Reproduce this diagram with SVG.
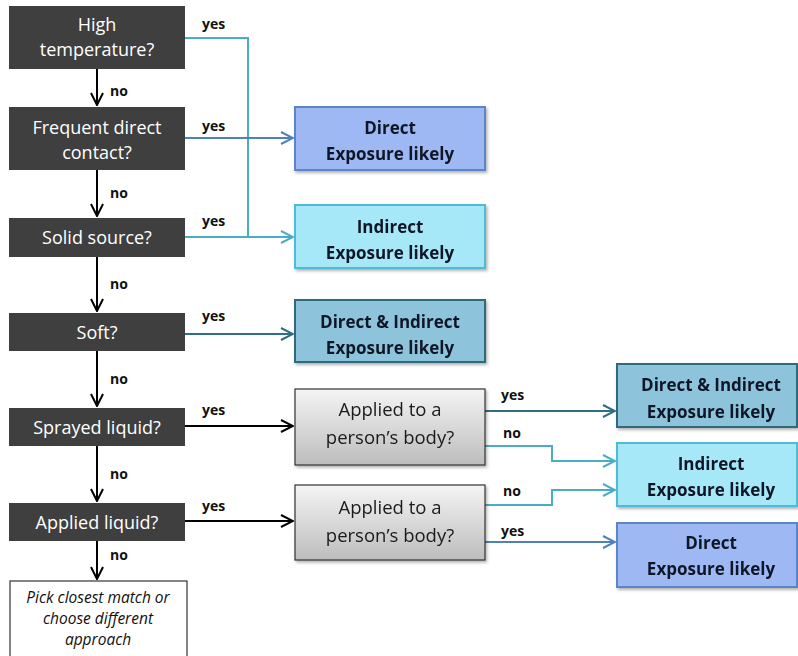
<svg xmlns="http://www.w3.org/2000/svg" width="798" height="656" viewBox="0 0 798 656">
<defs>
<style>
.q{fill:#3f3f3f}
.qt{fill:#fff;font-family:"Open Sans",sans-serif;font-size:18px;text-anchor:middle}
.gt{fill:#1a1a1a;font-family:"Open Sans",sans-serif;font-size:18.5px;text-anchor:middle}
.rt{fill:#111827;font-family:"Open Sans",sans-serif;font-size:17px;font-weight:bold;text-anchor:middle}
.lb{fill:#111;font-family:"Open Sans",sans-serif;font-size:14px;font-weight:bold}
.it{fill:#111;font-family:"Open Sans",sans-serif;font-size:15.5px;font-style:italic;text-anchor:middle}
.c{fill:none;stroke-width:2}
.k{stroke:#000}
.aq{stroke:#4bacc6}
.bl{stroke:#4f81bd}
.dt{stroke:#2f6f80}
.dir{fill:#9db8f3;stroke:#5a85c6;stroke-width:2}
.ind{fill:#a6e8f8;stroke:#4fbcd5;stroke-width:2}
.both{fill:#8ec4db;stroke:#2f6a7c;stroke-width:2}
.gray{fill:url(#gg);stroke:#333;stroke-width:1.2}
.pick{fill:#fff;stroke:#333;stroke-width:1.2}
</style>
<linearGradient id="gg" x1="0" y1="0" x2="0" y2="1">
<stop offset="0" stop-color="#f4f4f4"/>
<stop offset="1" stop-color="#bdbdbd"/>
</linearGradient>
<filter id="sh" x="-5%" y="-5%" width="112%" height="120%">
<feDropShadow dx="1.5" dy="2" stdDeviation="1.5" flood-color="#000" flood-opacity="0.3"/>
</filter>
<marker id="mk" viewBox="0 0 14 14" refX="13" refY="7" markerWidth="14" markerHeight="14" markerUnits="userSpaceOnUse" orient="auto">
<path d="M1,1 L13,7 L1,13" fill="none" stroke="#000" stroke-width="2"/>
</marker>
<marker id="ma" viewBox="0 0 14 14" refX="13" refY="7" markerWidth="14" markerHeight="14" markerUnits="userSpaceOnUse" orient="auto">
<path d="M1,1 L13,7 L1,13" fill="none" stroke="#4bacc6" stroke-width="2"/>
</marker>
<marker id="mb" viewBox="0 0 14 14" refX="13" refY="7" markerWidth="14" markerHeight="14" markerUnits="userSpaceOnUse" orient="auto">
<path d="M1,1 L13,7 L1,13" fill="none" stroke="#4f81bd" stroke-width="2"/>
</marker>
<marker id="md" viewBox="0 0 14 14" refX="13" refY="7" markerWidth="14" markerHeight="14" markerUnits="userSpaceOnUse" orient="auto">
<path d="M1,1 L13,7 L1,13" fill="none" stroke="#2f6f80" stroke-width="2"/>
</marker>
</defs>
<rect width="798" height="656" fill="#fff"/>

<g id="connectors">
<path class="c k" d="M97,69 V105" marker-end="url(#mk)"/>
<path class="c k" d="M97,170 V216" marker-end="url(#mk)"/>
<path class="c k" d="M97,257 V311" marker-end="url(#mk)"/>
<path class="c k" d="M97,351 V406" marker-end="url(#mk)"/>
<path class="c k" d="M97,446 V501" marker-end="url(#mk)"/>
<path class="c k" d="M97,541 V579" marker-end="url(#mk)"/>
<path class="c aq" d="M185,38 H248 V237"/>
<path class="c aq" d="M185,237 H293" marker-end="url(#ma)"/>
<path class="c bl" d="M185,138 H293" marker-end="url(#mb)"/>
<path class="c dt" d="M185,334 H293" marker-end="url(#md)"/>
<path class="c k" d="M185,426 H293" marker-end="url(#mk)"/>
<path class="c k" d="M185,521 H293" marker-end="url(#mk)"/>
<path class="c dt" d="M485,411 H615" marker-end="url(#md)"/>
<path class="c aq" d="M485,446 H552 V461 H615" marker-end="url(#ma)"/>
<path class="c aq" d="M485,505 H552 V490 H615" marker-end="url(#ma)"/>
<path class="c bl" d="M485,542 H615" marker-end="url(#mb)"/>
<text class="lb" x="202" y="29">yes</text>
<text class="lb" x="110" y="96">no</text>
<text class="lb" x="202" y="131">yes</text>
<text class="lb" x="110" y="198">no</text>
<text class="lb" x="202" y="226">yes</text>
<text class="lb" x="110" y="289">no</text>
<text class="lb" x="202" y="321">yes</text>
<text class="lb" x="110" y="384">no</text>
<text class="lb" x="202" y="415">yes</text>
<text class="lb" x="110" y="479">no</text>
<text class="lb" x="202" y="511">yes</text>
<text class="lb" x="110" y="560">no</text>
<text class="lb" x="501" y="400">yes</text>
<text class="lb" x="503" y="438">no</text>
<text class="lb" x="503" y="496">no</text>
<text class="lb" x="501" y="536">yes</text>
</g>

<g id="high-temperature">
<rect class="q" x="9" y="6" width="176" height="63"/>
<text class="qt" x="97" y="31">High</text>
<text class="qt" x="97" y="56">temperature?</text>
</g>
<g id="frequent-contact">
<rect class="q" x="9" y="107" width="176" height="63"/>
<text class="qt" x="97" y="134">Frequent direct</text>
<text class="qt" x="97" y="159">contact?</text>
</g>
<g id="solid-source">
<rect class="q" x="9" y="218" width="176" height="39"/>
<text class="qt" x="97" y="244">Solid source?</text>
</g>
<g id="soft">
<rect class="q" x="9" y="313" width="176" height="38"/>
<text class="qt" x="97" y="339">Soft?</text>
</g>
<g id="sprayed-liquid">
<rect class="q" x="9" y="408" width="176" height="38"/>
<text class="qt" x="97" y="434">Sprayed liquid?</text>
</g>
<g id="applied-liquid">
<rect class="q" x="9" y="503" width="176" height="38"/>
<text class="qt" x="97" y="529">Applied liquid?</text>
</g>
<g id="pick-closest">
<rect class="pick" x="10" y="581" width="177" height="80"/>
<text class="it" x="98" y="603">Pick closest match or</text>
<text class="it" x="98" y="624">choose different</text>
<text class="it" x="98" y="645">approach</text>
</g>

<g id="direct-1" filter="url(#sh)">
<rect class="dir" x="295" y="107" width="190" height="63"/>
<text class="rt" x="390" y="134">Direct</text>
<text class="rt" x="390" y="160">Exposure likely</text>
</g>
<g id="indirect-1" filter="url(#sh)">
<rect class="ind" x="295" y="205" width="190" height="63"/>
<text class="rt" x="390" y="233">Indirect</text>
<text class="rt" x="390" y="259">Exposure likely</text>
</g>
<g id="both-1" filter="url(#sh)">
<rect class="both" x="295" y="300" width="190" height="62"/>
<text class="rt" x="390" y="328">Direct &amp; Indirect</text>
<text class="rt" x="390" y="354">Exposure likely</text>
</g>

<g id="body-1" filter="url(#sh)">
<rect class="gray" x="295" y="389" width="190" height="76"/>
<text class="gt" x="390" y="416">Applied to a</text>
<text class="gt" x="390" y="444">person’s body?</text>
</g>
<g id="body-2" filter="url(#sh)">
<rect class="gray" x="295" y="485" width="190" height="75"/>
<text class="gt" x="390" y="514">Applied to a</text>
<text class="gt" x="390" y="542">person’s body?</text>
</g>

<g id="both-2" filter="url(#sh)">
<rect class="both" x="617" y="364" width="180" height="63"/>
<text class="rt" x="711" y="391">Direct &amp; Indirect</text>
<text class="rt" x="711" y="418">Exposure likely</text>
</g>
<g id="indirect-2" filter="url(#sh)">
<rect class="ind" x="617" y="443" width="180" height="63"/>
<text class="rt" x="711" y="470">Indirect</text>
<text class="rt" x="711" y="496">Exposure likely</text>
</g>
<g id="direct-2" filter="url(#sh)">
<rect class="dir" x="617" y="523" width="180" height="64"/>
<text class="rt" x="711" y="549">Direct</text>
<text class="rt" x="711" y="575">Exposure likely</text>
</g>
</svg>
